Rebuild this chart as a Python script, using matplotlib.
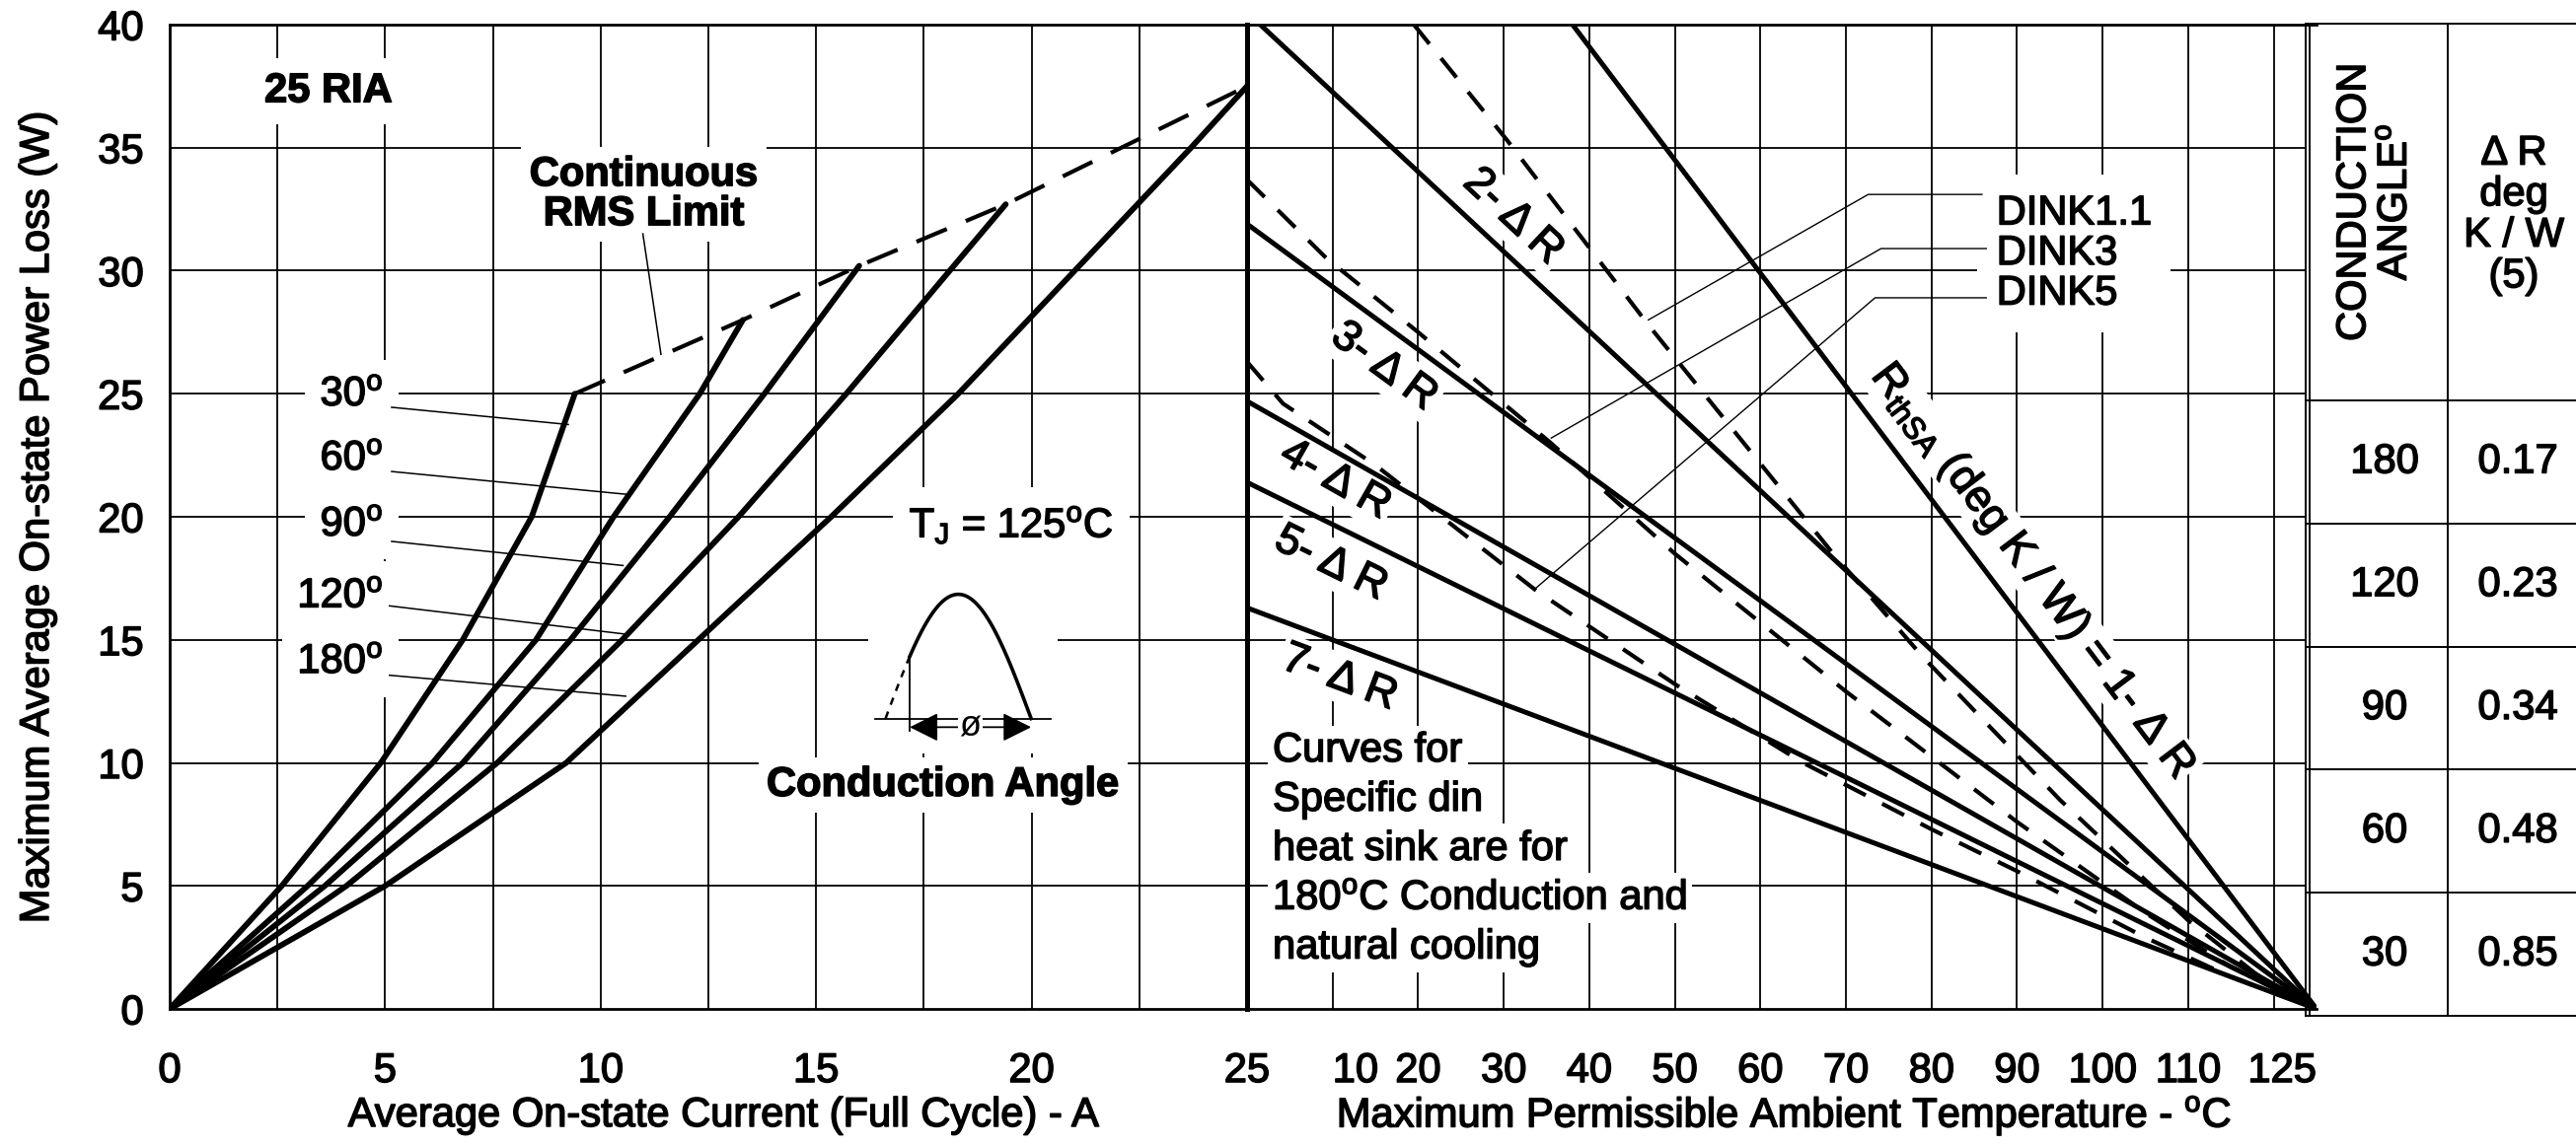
import matplotlib.pyplot as plt
import matplotlib.patheffects as pe
import numpy as np

plt.rcParams['font.family'] = ['Liberation Sans', 'DejaVu Sans']
plt.rcParams['mathtext.fontset'] = 'custom'
plt.rcParams['mathtext.rm'] = 'Liberation Sans'
plt.rcParams['mathtext.it'] = 'Liberation Sans:italic'
plt.rcParams['mathtext.bf'] = 'Liberation Sans:bold'

# power loss vs average current, one curve per conduction angle
angles = [30, 60, 90, 120, 180]
curr_30 = [0, 2.6, 4.9, 6.8, 8.4, 9.4]
loss_30 = [0, 5, 10, 15, 20, 25]
curr_60 = [0, 3.2, 6.1, 8.5, 10.3, 12.3, 13.3]
loss_60 = [0, 5, 10, 15, 20, 25, 28.0]
curr_90 = [0, 3.6, 6.8, 9.3, 11.6, 13.8, 16.0]
loss_90 = [0, 5, 10, 15, 20, 25, 30.2]
curr_120 = [0, 4.1, 7.6, 10.5, 13.2, 15.7, 18.1, 19.4]
loss_120 = [0, 5, 10, 15, 20, 25, 30, 32.7]
curr_180 = [0, 5.0, 9.2, 13.25, 15.35, 18.3, 21.0, 23.7, 25.0]
loss_180 = [0, 5, 10, 16.6, 20, 25, 30, 35, 37.5]

# heat sink lines: P at 0 degC, all reach 0 W at 125 degC
sink_names = ['1', '2', '3', '4', '5', '7']
sink_p0 = [57.5, 40.5, 31.9, 24.7, 21.4, 16.3]
t_junction = 125

# DIN heat sink curves (natural cooling)
dink11_t = [19.5, 30.4, 46.9, 68.5, 79, 95, 110, 118, 125]
dink11_p = [40, 35.3, 27.8, 18.5, 14.3, 8.5, 3.6, 1.4, 0]
dink3_t = [0, 9.3, 20, 35.5, 50, 70, 90, 105, 115, 125]
dink3_p = [33.7, 30.5, 27.5, 23.0, 18.5, 12.9, 7.6, 3.9, 1.7, 0]
dink5_t = [0, 4.2, 15, 33.8, 50, 65, 80, 90, 105, 115, 125]
dink5_p = [26.3, 24.6, 22.1, 17.0, 13.2, 10.0, 7.3, 5.6, 2.9, 1.3, 0]

# table
table_angle = [180, 120, 90, 60, 30]
table_dr = [0.17, 0.23, 0.34, 0.48, 0.85]

left_xticks = [0, 5, 10, 15, 20, 25]
right_xticks = [10, 20, 30, 40, 50, 60, 70, 80, 90, 100, 110, 125]
yticks = [0, 5, 10, 15, 20, 25, 30, 35, 40]

W, H = 2611, 1162
FS = 30
heavy = [pe.withStroke(linewidth=1.1, foreground='k')]


def box(x0, y0, x1, y1):
    return [x0 / W, 1 - y1 / H, (x1 - x0) / W, (y1 - y0) / H]


def angle_of(ax, x0, y0, x1, y1):
    p0 = ax.transData.transform((x0, y0))
    p1 = ax.transData.transform((x1, y1))
    return np.degrees(np.arctan2(p1[1] - p0[1], p1[0] - p0[0]))


def wbox(pad):
    return dict(facecolor='white', edgecolor='none', pad=pad)


deg = r'$^\mathregular{o}$'

fig = plt.figure(figsize=(W / 100, H / 100), dpi=100)
ax1 = fig.add_axes(box(172, 25, 1264, 1023))
ax2 = fig.add_axes(box(1264, 25, 2348, 1023))
tab = fig.add_axes([0, 0, 1, 1], zorder=5)
tab.set_xlim(0, W)
tab.set_ylim(H, 0)
tab.axis('off')
tab.patch.set_alpha(0)

for ax in (ax1, ax2):
    ax.patch.set_visible(False)
    ax.set_ylim(0, 40)
    ax.tick_params(length=0, labelsize=FS)
    for sp in ax.spines.values():
        sp.set_linewidth(2)

# ---- left panel ----
ax1.set_xlim(0, 25)
ax1.set_xticks(left_xticks)
ax1.set_yticks(yticks)
ax1.tick_params(axis='x', pad=31)
ax1.tick_params(axis='y', pad=19)
ax1.spines['right'].set_linewidth(3.6)
ax1.vlines(np.arange(2.5, 25, 2.5), 0, 40, color='k', lw=1.3, zorder=1)
ax1.hlines(np.arange(5, 40, 5), 0, 25, color='k', lw=1.3, zorder=1)

curves = [(curr_30, loss_30), (curr_60, loss_60), (curr_90, loss_90),
          (curr_120, loss_120), (curr_180, loss_180)]
for c, p in curves:
    ax1.plot(c, p, color='k', lw=4.2, zorder=3, solid_capstyle='round')
rms_c = [c[-1] for c, p in curves]
rms_p = [p[-1] for c, p in curves]
ax1.plot(rms_c, rms_p, color='k', lw=3.0, dashes=(8, 5), zorder=3)

# conduction angle labels with leaders
lab_y = [24.97, 22.36, 19.68, 16.77, 14.1]
lead = [((5.15, 24.45), (9.25, 23.75)), ((5.15, 21.84), (10.62, 20.91)),
        ((5.15, 19.0), (10.52, 18.02)), ((5.1, 16.38), (10.58, 15.23)),
        ((5.1, 13.56), (10.58, 12.71))]
for a, y, (s, e) in zip(angles, lab_y, lead):
    ax1.text(4.95, y, f'{a}' + deg, fontsize=FS, ha='right', va='center',
             zorder=2, bbox=wbox(11), path_effects=heavy)
    ax1.plot([s[0], e[0]], [s[1], e[1]], color='k', lw=1.1, zorder=3)

ax1.text(3.68, 37.3, '25 RIA', fontsize=FS, fontweight='bold', ha='center',
         va='center', zorder=2, bbox=wbox(10), path_effects=heavy)
ax1.text(11.0, 33.1, 'Continuous\nRMS Limit', fontsize=FS, fontweight='bold',
         ha='center', va='center', linespacing=1.0, zorder=2, bbox=wbox(6),
         path_effects=heavy)
ax1.plot([10.98, 11.4], [31.5, 26.6], color='k', lw=1.1, zorder=3)

# junction temperature note and conduction angle sketch
ax1.add_patch(plt.Rectangle((16.2, 10.4), 4.4, 8.2, facecolor='white',
                            edgecolor='none', zorder=2))
ax1.text(19.53, 19.68, r'T$_\mathregular{J}$ = 125' + deg + 'C', fontsize=FS,
         ha='center', va='center', zorder=2, bbox=wbox(12), path_effects=heavy)
base, amp, a0, a1 = 11.8, 5.05, 16.61, 19.99
ph = np.linspace(np.pi / 6, np.pi, 60)
ax1.plot(a0 + (a1 - a0) * ph / np.pi, base + amp * np.sin(ph), color='k', lw=2.6, zorder=3)
ph0 = np.linspace(0, np.pi / 6, 10)
ax1.plot(a0 + (a1 - a0) * ph0 / np.pi, base + amp * np.sin(ph0), color='k', lw=1.8,
         dashes=(3, 3), zorder=3)
fire = a0 + (a1 - a0) / 6
ax1.plot([fire, fire], [base + amp / 2, base - 0.5], color='k', lw=1.3, zorder=3)
ax1.plot([16.36, 20.44], [base, base], color='k', lw=1.3, zorder=3)
ax1.annotate('', xy=(fire, 11.45), xytext=(a1, 11.45), zorder=3,
             arrowprops=dict(arrowstyle='<|-|>', color='k', lw=1.3,
                             mutation_scale=45, shrinkA=0, shrinkB=0))
ax1.text((fire + a1) / 2, 11.45, 'ø', fontsize=26, ha='center', va='center',
         zorder=4, bbox=wbox(1))
ax1.text(17.94, 9.1, 'Conduction Angle', fontsize=FS, fontweight='bold',
         ha='center', va='center', zorder=2, bbox=wbox(6), path_effects=heavy)

# ---- right panel ----
ax2.set_xlim(0, 125)
ax2.set_xticks(right_xticks)
ax2.set_xticklabels([str(t) for t in right_xticks])
ax2.set_yticks([])
ax2.tick_params(axis='x', pad=31)
ax2.spines['left'].set_visible(False)
ax2.spines['right'].set_visible(False)
xl = ax2.get_xticklabels()
xl[0].set_ha('left')
xl[-1].set_ha('right')
ax2.vlines(np.arange(10, 121, 10), 0, 40, color='k', lw=1.3, zorder=1)
ax2.hlines(np.arange(5, 40, 5), 0, 123.7, color='k', lw=1.3, zorder=1)

for p0 in sink_p0:
    ax2.plot([0, t_junction], [p0, 0], color='k', lw=3.6, zorder=3)
for t, p in [(dink11_t, dink11_p), (dink3_t, dink3_p), (dink5_t, dink5_p)]:
    ax2.plot(t, p, color='k', lw=3.0, dashes=(6, 4.5), zorder=3)

# labels along the heat sink lines
lab_pos = {'2': (31.1, 32.2), '3': (16.0, 26.1), '4': (10.3, 21.5),
           '5': (9.8, 18.1), '7': (10.8, 13.45)}
for name, p0 in zip(sink_names, sink_p0):
    rot = angle_of(ax2, 0, p0, t_junction, 0)
    if name == '1':
        ax2.text(91.8, 17.76, r'R$_\mathregular{thSA}$ (deg K / W) = 1- Δ R',
                 fontsize=32, rotation=rot, rotation_mode='anchor', ha='center',
                 va='center', zorder=2, bbox=wbox(1), path_effects=heavy)
    else:
        x, y = lab_pos[name]
        ax2.text(x, y, f'{name}- Δ R', fontsize=32, rotation=rot,
                 rotation_mode='anchor', ha='center', va='center', zorder=2,
                 bbox=wbox(3), path_effects=heavy)

# DIN heat sink callouts
ax2.text(87.6, 30.7, 'DINK1.1\nDINK3\nDINK5', fontsize=FS, ha='left', va='center',
         linespacing=1.02, zorder=2, bbox=wbox(14), path_effects=heavy)
for pts in [[(46.9, 28.0), (72.6, 33.1), (85.9, 33.1)],
            [(35.55, 23.2), (74.1, 30.9), (86.4, 30.9)],
            [(33.75, 17.1), (73.4, 28.9), (86.4, 28.9)]]:
    xs, ys = zip(*pts)
    ax2.plot(xs, ys, color='k', lw=1.0, zorder=3)

note = ['Curves for', 'Specific din', 'heat sink are for',
        '180' + deg + 'C Conduction and', 'natural cooling']
for i, line in enumerate(note):
    ax2.text(3.0, 10.5 - i * 2.0, line, fontsize=FS, ha='left', va='center',
             zorder=2, bbox=wbox(4), path_effects=heavy)

for lab in ax1.get_xticklabels() + ax1.get_yticklabels() + ax2.get_xticklabels():
    lab.set_path_effects(heavy)

# ---- axis titles ----
fig.text(38 / W, 1 - 525 / H, 'Maximum Average On-state Power Loss (W)',
         rotation=90, fontsize=FS, ha='center', va='center', path_effects=heavy)
fig.text(733 / W, 1 - 1131 / H, 'Average On-state Current (Full Cycle) - A',
         fontsize=FS, ha='center', va='center', path_effects=heavy)
fig.text(1808 / W, 1 - 1131 / H, 'Maximum Permissible Ambient Temperature - ' + deg + 'C',
         fontsize=FS, ha='center', va='center', path_effects=heavy)

# ---- conduction angle / delta R table ----
tx0, tx1, tx2 = 2337, 2481, 2640
top, head = 24, 406
rows = np.linspace(head, 1030, len(table_angle) + 1)
tab.plot([tx0, tx0], [top, rows[-1]], color='k', lw=1.4)
tab.plot([tx0 + 4, tx0 + 4], [top, rows[-1]], color='k', lw=1.4)
tab.plot([tx1, tx1], [top, rows[-1]], color='k', lw=1.4)
tab.plot([tx0, tx2], [top, top], color='k', lw=1.4)
for y in rows:
    tab.plot([tx0, tx2], [y, y], color='k', lw=1.4)
tab.text(2407, 205, 'CONDUCTION\nANGLE' + deg, rotation=90, fontsize=FS,
         ha='center', va='center', multialignment='center', linespacing=1.05,
         path_effects=heavy)
tab.text(2548, 218, 'Δ R\ndeg\nK / W\n(5)', fontsize=FS, ha='center',
         va='center', multialignment='center', linespacing=1.05, path_effects=heavy)
for i, (a, dr) in enumerate(zip(table_angle, table_dr)):
    yc = (rows[i] + rows[i + 1]) / 2
    tab.text(2417, yc, f'{a}', fontsize=FS, ha='center', va='center', path_effects=heavy)
    tab.text(2552, yc, f'{dr:.2f}', fontsize=FS, ha='center', va='center',
             path_effects=heavy)

fig.savefig('out.png', dpi=100, facecolor='white')
